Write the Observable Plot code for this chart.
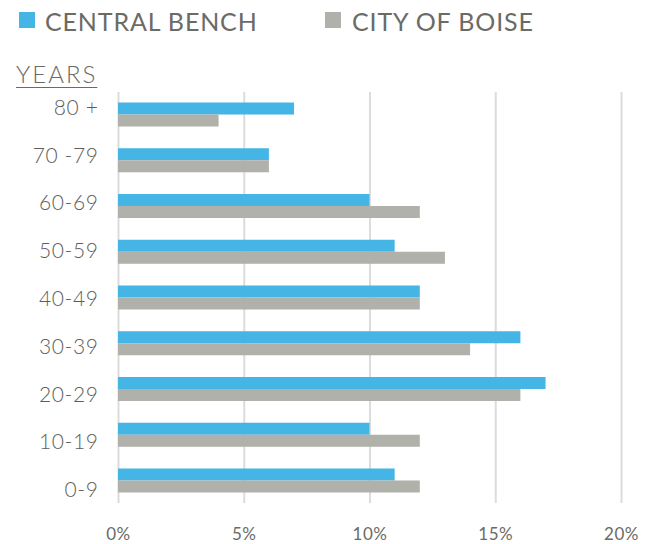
<!DOCTYPE html>
<html>
<head>
<meta charset="utf-8">
<script src="https://cdn.jsdelivr.net/npm/d3@7"></script>
<script src="https://cdn.jsdelivr.net/npm/@observablehq/plot@0.6"></script>
<style>
  body { margin: 0; background: #fff; font-family: Lato, "DejaVu Sans", sans-serif; color: #6b6b66; }
  #wrap { position: relative; width: 648px; height: 544px; }
  #header { position: relative; height: 92px; }
  .sw { position: absolute; width: 16px; height: 16px; top: 12px; }
  .lt { position: absolute; top: 6px; font-size: 25px; line-height: 30px; letter-spacing: 0.85px; }
  #years { position: absolute; left: 16px; top: 60px; font-size: 24px; line-height: 28px; font-weight: 300; letter-spacing: 2px; text-decoration: underline; text-underline-offset: 4px; text-decoration-thickness: 1px; }
  #chart { position: relative; }
  #chart svg { display: block; }
  #labels { position: absolute; left: 0; top: 0; pointer-events: none; }
  #labels svg { background: transparent !important; }
</style>
</head>
<body>
<div id="wrap">
  <div id="header">
    <div class="sw" style="left:19px;background:#45b5e6"></div>
    <div class="lt" style="left:45px">CENTRAL BENCH</div>
    <div class="sw" style="left:325px;background:#b1b1ab"></div>
    <div class="lt" style="left:352px">CITY OF BOISE</div>
    <div id="years">YEARS</div>
  </div>
  <div id="chart"><div id="labels"></div></div>
</div>
<script>
const ages = ["80 +", "70 -79", "60-69", "50-59", "40-49", "30-39", "20-29", "10-19", "0-9"];
const centralBench = [7, 6, 10, 11, 12, 16, 17, 10, 11];
const cityOfBoise = [4, 6, 12, 13, 12, 14, 16, 12, 12];
const xTicks = [0, 5, 10, 15, 20];
const seriesNames = ["Central Bench", "City of Boise"];
const seriesColors = ["#45b5e6", "#b1b1ab"];

const bench = ages.map((a, i) => ({age: a, value: centralBench[i]}));
const boise = ages.map((a, i) => ({age: a, value: cityOfBoise[i]}));

const font = "Lato, 'DejaVu Sans', sans-serif";

const chart = Plot.plot({
  width: 648,
  height: 452,
  marginLeft: 118,
  marginRight: 27,
  marginTop: 0,
  marginBottom: 41,
  style: {fontFamily: font, color: "#6b6b66", background: "#fff"},
  x: {domain: [0, 20], label: null},
  y: {domain: ages, paddingInner: 0.475, paddingOuter: 0.2295, round: false, axis: null, label: null},
  marks: [
    Plot.ruleX(xTicks, {x: d => d, stroke: "#dcdcdc", strokeWidth: 2}),
    Plot.barX(bench, {x: "value", y: "age", fill: seriesColors[0], insetBottom: 12}),
    Plot.barX(boise, {x: "value", y: "age", fill: seriesColors[1], insetTop: 12}),
    Plot.axisX({ticks: xTicks, tickFormat: d => d + "%", tickSize: 0, tickPadding: 24, fontSize: 17, label: null})
  ]
});
chart.querySelectorAll("text").forEach(t => t.style.letterSpacing = "0.6px");
document.getElementById("chart").insertBefore(chart, document.getElementById("labels"));

// Category labels sit on their own evenly spaced point scale, as in the reference
const labels = Plot.plot({
  width: 118,
  height: 452,
  marginLeft: 118,
  marginRight: 0,
  marginTop: 0,
  marginBottom: 0,
  style: {fontFamily: font, color: "#5e5e59", background: "transparent"},
  y: {type: "point", domain: ages, range: [15.5, 398], padding: 0, round: false, label: null},
  marks: [
    Plot.axisY({tickSize: 0, tickPadding: 20, fontSize: 21, fontWeight: 300, label: null})
  ]
});
labels.querySelectorAll("text").forEach(t => t.style.letterSpacing = "0.6px");
document.getElementById("labels").appendChild(labels);
</script>
</body>
</html>
